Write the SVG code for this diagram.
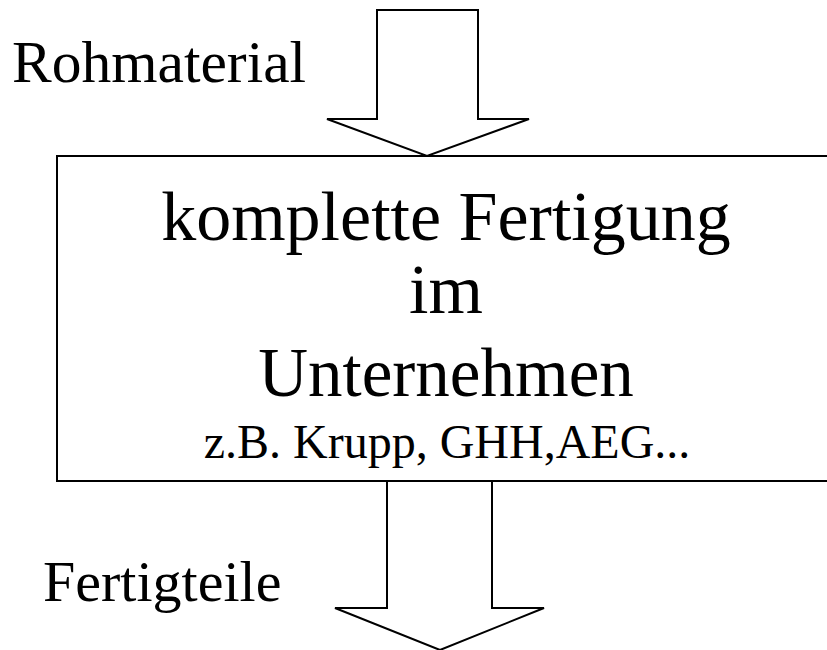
<svg xmlns="http://www.w3.org/2000/svg" width="827" height="650" viewBox="0 0 827 650">
<style>
.s{fill:#fff;stroke:#000;stroke-width:2;stroke-linejoin:miter}
.t{font-family:"Liberation Serif","Times New Roman",serif;fill:#000}
</style>
<rect width="827" height="650" fill="#fff"/>
<g id="box">
<rect class="s" x="57" y="156" width="790" height="325"/>
<text class="t" font-size="70" text-anchor="middle" x="446" y="240">komplette Fertigung</text>
<text class="t" font-size="70" text-anchor="middle" x="446" y="313">im</text>
<text class="t" font-size="69" text-anchor="middle" x="446" y="396">Unternehmen</text>
<text class="t" font-size="48" text-anchor="middle" x="447" y="458">z.B. Krupp, GHH,AEG...</text>
</g>
<g id="connectors">
<polygon id="in-arrow" class="s" points="377,10 478,10 478,119 529,119 427,156 327,119 377,119"/>
<polygon id="out-arrow" class="s" points="387,481 492,481 492,608 544,608 440,650 335,608 387,608"/>
</g>
<g id="labels">
<text class="t" font-size="59.5" x="12" y="82">Rohmaterial</text>
<text class="t" font-size="58" x="43" y="601">Fertigteile</text>
</g>
</svg>
